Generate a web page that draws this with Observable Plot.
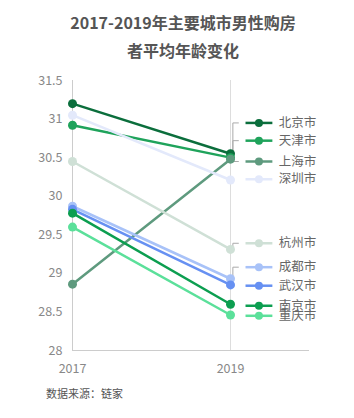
<!DOCTYPE html>
<html>
<head>
<meta charset="utf-8">
<script src="https://cdn.jsdelivr.net/npm/d3@7"></script>
<script src="https://cdn.jsdelivr.net/npm/@observablehq/plot@0.6"></script>
<style>
  html, body { margin: 0; padding: 0; background: #fff; }
  body { width: 354px; height: 418px; overflow: hidden; font-family: "Noto Sans CJK SC", "Noto Sans", sans-serif; }
  #title { text-align: center; font-weight: bold; color: #555; font-size: 16px; line-height: 28px; padding-top: 8px; height: 70px; box-sizing: border-box; padding-left: 12px; }
  #chart svg { display: block; }
  #caption { font-size: 11px; color: #555; padding-left: 46px; margin-top: 5px; }
</style>
</head>
<body>
<div id="title">2017-2019年主要城市男性购房<br>者平均年龄变化</div>
<div id="chart"></div>
<div id="caption">数据来源：链家</div>
<script>
// ---- data ----
const cities = ["北京市", "天津市", "上海市", "深圳市", "杭州市", "成都市", "武汉市", "南京市", "重庆市"];
const years = [2017, 2019];
const age2017 = [31.2, 30.92, 28.86, 31.05, 30.45, 29.87, 29.83, 29.78, 29.6];
const age2019 = [30.55, 30.5, 30.48, 30.21, 29.31, 28.93, 28.85, 28.6, 28.46];
const colors = ["#0b6e3c", "#1fa35b", "#5e9a7e", "#e3e9fb", "#cfe0d6", "#a8c2f8", "#6690f2", "#0c9e50", "#5be09a"];
const yTicks = [28, 28.5, 29, 29.5, 30, 30.5, 31, 31.5];
const xTicks = [2017, 2019];

// ---- label layout (end labels, in data units) ----
const labelAt = [30.95, 30.72, 30.45, 30.22, 29.39, 29.08, 28.84, 28.58, 28.45];

const pts = [];
cities.forEach((c, i) => {
  pts.push({city: c, year: years[0], age: age2017[i], color: colors[i]});
  pts.push({city: c, year: years[1], age: age2019[i], color: colors[i]});
});
const labels = cities.map((c, i) => ({city: c, age: age2019[i], ly: labelAt[i], color: colors[i]}));
const connectors = [];
labels.forEach(d => {
  if (Math.abs(d.ly - d.age) > 0.025) {
    connectors.push({city: d.city, x: 2019.03, y: d.age});
    connectors.push({city: d.city, x: 2019.03, y: d.ly});
    connectors.push({city: d.city, x: 2019.1, y: d.ly});
  }
});

const chart = Plot.plot({
  width: 354,
  height: 310,
  marginLeft: 72,
  marginRight: 45,
  marginTop: 10,
  marginBottom: 30,
  style: {fontFamily: "'Noto Sans CJK SC', 'Noto Sans', sans-serif", fontSize: "12.5px", color: "#888", background: "#fff"},
  x: {domain: [2017, 2020], ticks: xTicks, tickFormat: d => String(d), tickSize: 0, tickPadding: 8, label: null},
  y: {domain: [28, 31.5], ticks: yTicks, tickFormat: d => String(d), tickSize: 0, tickPadding: 10, label: null},
  color: {type: "identity"},
  marks: [
    Plot.ruleX([2017], {stroke: "#ccc", strokeWidth: 1}),
    Plot.ruleX([2019], {stroke: "#ddd", strokeWidth: 1}),
    Plot.ruleY([28], {x1: 2017, x2: 2020, stroke: "#ccc", strokeWidth: 1}),
    Plot.axisY({ticks: yTicks, tickSize: 0, tickPadding: 10, tickFormat: d => String(d), fill: "#888", fontSize: 12.5}),
    Plot.axisX({ticks: xTicks, tickSize: 0, tickPadding: 14, tickFormat: d => String(d), fill: "#888", fontSize: 12.5}),
    Plot.line(connectors, {x: "x", y: "y", z: "city", stroke: "#aaa", strokeWidth: 1}),
    Plot.line(pts, {x: "year", y: "age", z: "city", stroke: "color", strokeWidth: 2.5}),
    Plot.dot(pts, {x: "year", y: "age", fill: "color", r: 4.5}),
    Plot.link(labels, {x1: 2019.19, x2: 2019.53, y1: "ly", y2: "ly", stroke: "color", strokeWidth: 2.5}),
    Plot.dot(labels, {x: 2019.36, y: "ly", fill: "color", r: 4}),
    Plot.text(labels, {x: 2019.61, y: "ly", text: "city", textAnchor: "start", fill: "#666", fontSize: 12.5})
  ]
});
document.getElementById("chart").appendChild(chart);
</script>
</body>
</html>
